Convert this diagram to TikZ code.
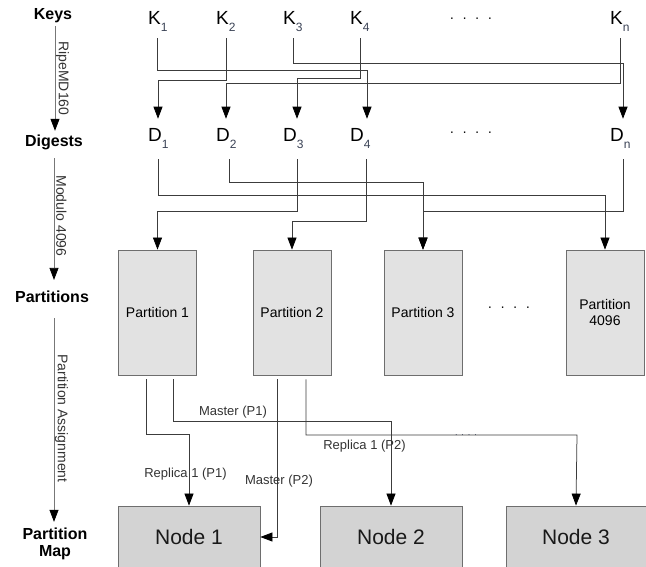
\documentclass[tikz,border=0pt]{standalone}
\usepackage{fontspec}
\setmainfont{Liberation Sans}
\usetikzlibrary{arrows.meta}
\definecolor{linec}{HTML}{3C3C3C}
\definecolor{sidec}{HTML}{777777}
\definecolor{pfill}{HTML}{E2E2E2}
\definecolor{nfill}{HTML}{D3D3D3}
\definecolor{bordc}{HTML}{6E6E6E}
\definecolor{subc}{HTML}{3A4255}
\definecolor{labc}{HTML}{333333}
\newcommand{\kd}[2]{#1\raisebox{-7pt}{\fontsize{12}{12}\selectfont\color{subc}#2}}
\newcommand{\fourdots}{·\hspace{8pt}·\hspace{8pt}·\hspace{8pt}·}
\newcommand{\smalldots}{·\hspace{3.5pt}·\hspace{3.5pt}·\hspace{3.5pt}·}
\begin{document}
\begin{tikzpicture}[x=1pt,y=-1pt,
  rowlab/.style={font=\fontsize{16}{17}\selectfont\bfseries, align=center, inner sep=0pt},
  kdlab/.style={font=\fontsize{19}{22}\selectfont, inner sep=0pt, anchor=base west},
  part/.style={draw=bordc, fill=pfill, minimum width=78pt, minimum height=125pt, inner sep=0pt, align=center, font=\fontsize{14}{16}\selectfont, line width=0.8pt},
  nodebox/.style={draw=bordc, fill=nfill, minimum width=142pt, minimum height=62pt, inner sep=0pt, font=\fontsize{21}{24}\selectfont, text=black!90, line width=0.8pt},
  conn/.style={draw=linec, line width=0.75pt},
  arr/.style={conn, -{Triangle[length=12pt,width=9pt,color=black]}},
  sidearr/.style={draw=sidec, line width=0.75pt, -{Triangle[length=12pt,width=9pt,color=black]}},
  elab/.style={font=\fontsize{13}{15}\selectfont, text=labc, inner sep=0pt},
  sidelab/.style={font=\fontsize{14}{16}\selectfont, text=labc, rotate=-90, inner sep=0pt},
  dotrow/.style={font=\fontsize{14}{16}\selectfont, inner sep=0pt},
]
\clip (0,0) rectangle (646,567);

% left column
\node[rowlab] (keys) at (53,16) {Keys};
\node[rowlab] (dig) at (54,142.5) {Digests};
\node[rowlab] (parts) at (52,297) {Partitions};
\node[rowlab] (pmap) at (55,544) {Partition\\Map};

\draw[sidearr, shorten <=3pt, shorten >=4pt] (keys.south -| 55,0) -- (dig.north -| 55,0);
\draw[sidearr, shorten <=8pt, shorten >=11pt] (dig.south -| 54,0) -- (parts.north -| 54,0);
\draw[sidearr, shorten <=15pt, shorten >=6pt] (parts.south -| 54,0) -- (pmap.north -| 54,0);

\node[sidelab] (lrip) at (62.5,78.5) {RipeMD160};
\node[sidelab] (lmod) at (61.5,216) {Modulo 4096};
\node[sidelab] (lpa) at (61.5,418.5) {Partition Assignment};

% keys
\node[kdlab] (K1) at (148,25) {\kd{K}{1}};
\node[kdlab] (K2) at (216,25) {\kd{K}{2}};
\node[kdlab] (K3) at (283,25) {\kd{K}{3}};
\node[kdlab] (K4) at (350,25) {\kd{K}{4}};
\node[kdlab] (Kn) at (610,25) {\kd{K}{n}};
\node[dotrow] (kdots) at (471,20) {\fourdots};

% digests
\node[kdlab] (D1) at (148,142) {\kd{D}{1}};
\node[kdlab] (D2) at (216,142) {\kd{D}{2}};
\node[kdlab] (D3) at (283,142) {\kd{D}{3}};
\node[kdlab] (D4) at (350,142) {\kd{D}{4}};
\node[kdlab] (Dn) at (610,142) {\kd{D}{n}};
\node[dotrow] (ddots) at (471,134) {\fourdots};

% keys -> digests
\draw[arr, shorten <=6pt, shorten >=10pt] (K1.south) |- (367,70) -- (D4.north -| 367,0);
\draw[arr, shorten <=6pt, shorten >=10pt] (K2.south) |- (158,80) -- (D1.north -| 158,0);
\draw[arr, shorten <=6pt, shorten >=10pt] (K3.south) |- (623,63) -- (Dn.north -| 623,0);
\draw[arr, shorten <=6pt, shorten >=10pt] (K4.south) |- (297,78) -- (D3.north -| 297,0);
\draw[arr, shorten <=6pt, shorten >=10pt] (Kn.south) |- (226,83) -- (D2.north -| 226,0);

% partitions
\node[part] (P1) at (157.5,312.5) {Partition 1};
\node[part] (P2) at (292,312.5) {Partition 2};
\node[part] (P3) at (423,312.5) {Partition 3};
\node[part] (P4) at (605,312.5) {Partition\\4096};
\node[dotrow] (pdots) at (509,309) {\fourdots};

% digests -> partitions
\draw[arr, shorten <=10pt] (D1.south -| 158,0) |- (605,195) -- (P4.north);
\draw[arr, shorten <=10pt] (D2.south -| 229,0) |- (423,182) -- (P3.north);
\draw[arr, shorten <=10pt] (D3.south -| 297,0) |- (157.5,211) -- (P1.north);
\draw[arr, shorten <=10pt] (D4.south -| 366,0) |- (292,221) -- (P2.north);
\draw[arr, shorten <=10pt] (Dn.south -| 623,0) |- (423,211) -- (P3.north);

% physical nodes
\node[nodebox] (N1) at (189,537) {Node 1};
\node[nodebox] (N2) at (391,537) {Node 2};
\node[nodebox, minimum width=140pt] (N3) at (576,537) {Node 3};

% partitions -> nodes
\draw[arr, shorten <=4pt] (P1.south -| 146,0) |- (189,434) -- (N1.north);
\draw[arr, shorten <=4pt] (P1.south -| 173,0) |- (391,421) -- (N2.north);
\draw[arr, shorten <=4pt] (P2.south -| 277,0) |- (N1.east);
\draw[arr, shorten <=4pt] (P2.south -| 306,0) |- (577,435) -- (N3.north);

% edge labels
\node[elab] (m1) at (233,412) {Master (P1)};
\node[elab] (r1) at (185.5,474) {Replica 1 (P1)};
\node[elab] (m2) at (279,481) {Master (P2)};
\node[elab] (r2) at (364.5,446) {Replica 1 (P2)};
\node[font=\fontsize{9}{10}\selectfont, text=subc, inner sep=0pt] (edots) at (466,436) {\smalldots};
\end{tikzpicture}
\end{document}
